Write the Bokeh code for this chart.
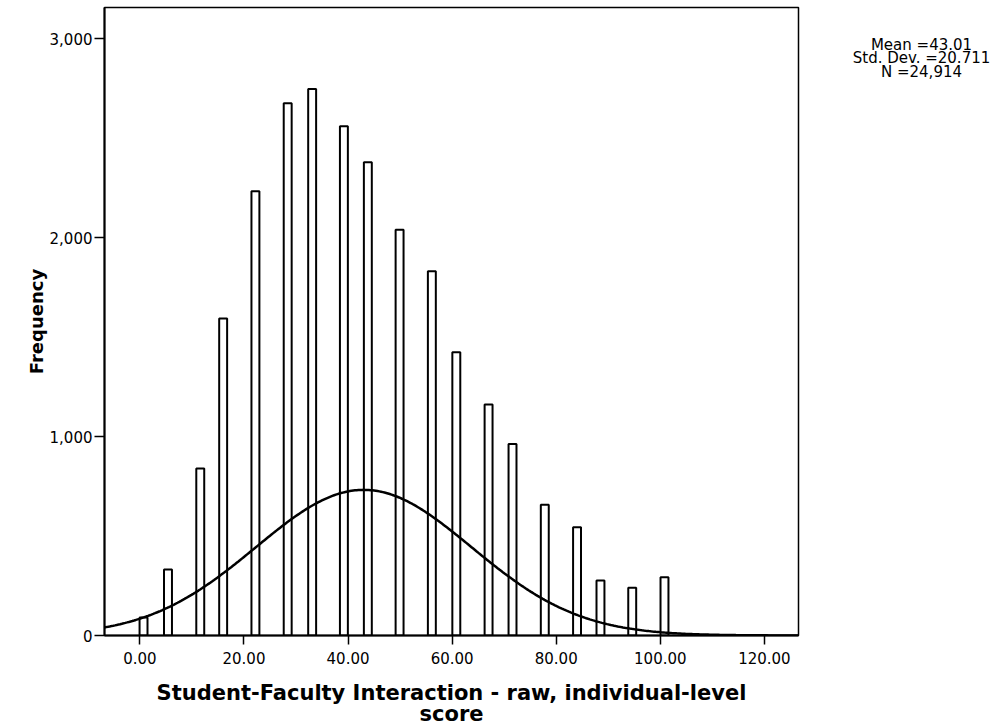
import math
from bokeh.plotting import figure
from bokeh.layouts import row
from bokeh.models import NumeralTickFormatter, Range1d, FixedTicker
from bokeh.core.properties import value
from bokeh.embed import file_html
from bokeh.resources import INLINE

# ---- data ----
bin_centers = [0.7, 5.4, 11.6, 16.0, 22.2, 28.4, 33.1, 39.2, 43.8, 49.9,
               56.1, 60.8, 67.0, 71.6, 77.8, 84.0, 88.5, 94.6, 100.8]
frequencies = [90, 332, 839, 1593, 2233, 2675, 2747, 2559, 2378, 2039,
               1831, 1424, 1161, 963, 657, 544, 276, 240, 293]
bin_width = 1.525
mean_val = 43.01
std_dev = 20.711
n_total = 24914
x_ticks = [0, 20, 40, 60, 80, 100, 120]
y_ticks = [0, 1000, 2000, 3000]
stats_lines = ["Mean =43.01", "Std. Dev. =20.711", "N =24,914"]

x_lo, x_hi = -6.8, 126.55
y_lo, y_hi = 0, 3156

FRAME_W, FRAME_H = 694, 628
LEFT, TOP, BOTTOM, RIGHT = 104, 7, 86, 10

p = figure(frame_width=FRAME_W, frame_height=FRAME_H,
           x_range=Range1d(x_lo, x_hi), y_range=Range1d(y_lo, y_hi),
           output_backend="svg", toolbar_location=None,
           min_border_left=LEFT, min_border_right=RIGHT,
           min_border_top=TOP, min_border_bottom=BOTTOM,
           background_fill_color="white", border_fill_color="white")

p.vbar(x=bin_centers, top=frequencies, bottom=0, width=bin_width,
       fill_color="white", line_color="black", line_width=2)

# fitted normal curve from the stated statistics
npts = 400
cx = [x_lo + (x_hi - x_lo) * i / (npts - 1) for i in range(npts)]
scale = n_total * bin_width / (std_dev * math.sqrt(2 * math.pi))
cy = [scale * math.exp(-0.5 * ((v - mean_val) / std_dev) ** 2) for v in cx]
p.line(cx, cy, line_color="black", line_width=2.5)

p.grid.visible = False
p.outline_line_color = "black"
p.outline_line_width = 1.5

for ax in (p.xaxis[0], p.yaxis[0]):
    ax.axis_line_color = "black"
    ax.axis_line_width = 2
    ax.major_tick_line_color = "black"
    ax.major_tick_line_width = 1.5
    ax.major_tick_in = 0
    ax.minor_tick_line_color = None
    ax.major_label_text_font = "DejaVu Sans"
    ax.major_label_text_font_size = "15px"
    ax.major_label_text_color = "black"
    ax.axis_label_text_font = "DejaVu Sans"
    ax.axis_label_text_font_style = "bold"
    ax.axis_label_text_color = "black"

p.xaxis.ticker = FixedTicker(ticks=x_ticks)
p.xaxis.formatter = NumeralTickFormatter(format="0.00")
p.xaxis.major_tick_out = 9
p.xaxis.major_label_standoff = 7
p.xaxis.axis_label = "Student-Faculty Interaction - raw, individual-level\nscore"
p.xaxis.axis_label_text_font_size = "21px"
p.xaxis.axis_label_text_line_height = 0.9
p.xaxis.axis_label_standoff = 14

p.yaxis.ticker = FixedTicker(ticks=y_ticks)
p.yaxis.formatter = NumeralTickFormatter(format="0,0")
p.yaxis.major_tick_out = 10
p.yaxis.major_label_standoff = 2
p.yaxis.axis_label = "Frequency"
p.yaxis.axis_label_text_font_size = "18px"
p.yaxis.axis_label_standoff = 0

# side panel holding the statistics box text
total_h = TOP + FRAME_H + BOTTOM
main_w = LEFT + FRAME_W + RIGHT
side_w = 1003 - main_w - 4
s = figure(frame_width=side_w, frame_height=total_h,
           x_range=Range1d(0, side_w), y_range=Range1d(0, total_h),
           x_axis_type=None, y_axis_type=None,
           output_backend="svg", toolbar_location=None,
           min_border_left=0, min_border_right=0,
           min_border_top=0, min_border_bottom=0,
           background_fill_color="white", border_fill_color="white")
s.grid.visible = False
s.outline_line_color = None
stat_x = [921 - main_w] * len(stats_lines)
stat_y = [total_h - (37 + 13.8 * i) for i in range(len(stats_lines))]
s.text(x=stat_x, y=stat_y, text=stats_lines,
       text_align="center", text_baseline="middle",
       text_font=value("DejaVu Sans"), text_font_size="15px",
       text_color="black")

layout = row(p, s, spacing=0)
open("out.html", "w").write(file_html(layout, INLINE))
